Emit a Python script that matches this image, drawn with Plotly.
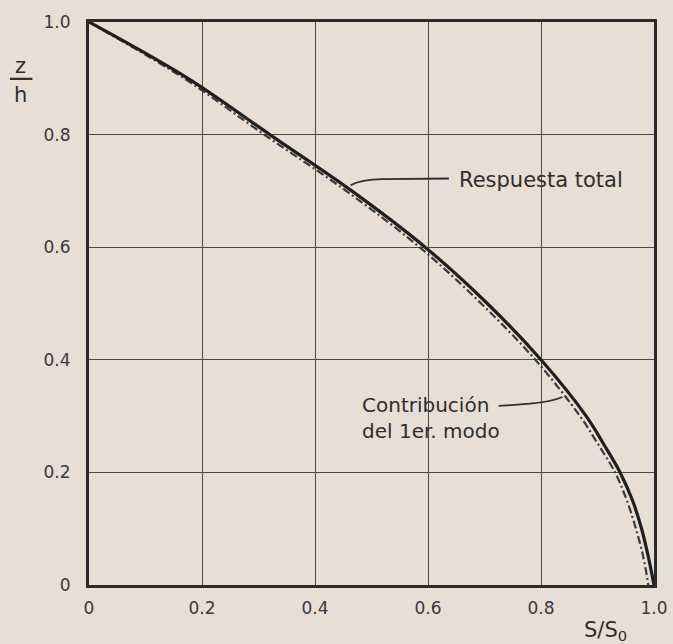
import plotly.graph_objects as go

# Relative height z/h
z_vals = [1.0, 0.9, 0.8, 0.7, 0.6, 0.5, 0.4, 0.3, 0.25, 0.2, 0.15, 0.1, 0.05, 0.0]
# Respuesta total  (S/S0)
s_total = [0.0, 0.175, 0.32, 0.465, 0.595, 0.705, 0.80, 0.88, 0.911, 0.94, 0.962, 0.978, 0.99, 1.0]
# Contribución del 1er. modo  (S/S0)
s_mode1 = [0.0, 0.168, 0.31, 0.455, 0.585, 0.694, 0.79, 0.869, 0.901, 0.931, 0.952, 0.968, 0.981, 0.99]

tick_vals = [0, 0.2, 0.4, 0.6, 0.8, 1.0]
tick_text = ["0", "0.2", "0.4", "0.6", "0.8", "1.0"]

BG = "#e7dfd5"
INK = "#2b2a2c"
TXT = "#2e2d2f"
FONT = "DejaVu Sans"

fig = go.Figure()
fig.add_trace(go.Scatter(
    x=s_mode1, y=z_vals, mode="lines", line_shape="spline",
    line=dict(color="#3a3a3c", width=2.2, dash="8px,3px,2px,3px"),
    name="Contribución del 1er. modo", cliponaxis=False))
fig.add_trace(go.Scatter(
    x=s_total, y=z_vals, mode="lines", line_shape="spline",
    line=dict(color="#1f1e20", width=3.2),
    name="Respuesta total", cliponaxis=False))

axis_common = dict(range=[0, 1], tickvals=tick_vals, ticktext=tick_text,
                   showgrid=True, gridcolor="#4a4a4c", gridwidth=1.2,
                   showline=True, linecolor=INK, linewidth=3, mirror=True,
                   zeroline=False, ticks="", automargin=False,
                   tickfont=dict(family=FONT, size=17, color="#38373a"))

fig.update_xaxes(**axis_common, ticklabelstandoff=6)
fig.update_yaxes(**axis_common, ticklabelstandoff=12)

# Labels with leader lines
fig.add_annotation(x=0.651, y=0.72, text="Respuesta total", showarrow=False,
                   xanchor="left", yanchor="middle",
                   font=dict(family=FONT, size=21, color=TXT))
fig.add_shape(type="path", xref="x", yref="y",
              path="M 0.637 0.722 L 0.52 0.721 Q 0.48 0.72 0.463 0.71",
              line=dict(color=TXT, width=1.8))
fig.add_annotation(x=0.48, y=0.297, text="Contribución<br>del 1er. modo", showarrow=False,
                   xanchor="left", yanchor="middle", align="left",
                   font=dict(family=FONT, size=20, color=TXT))
fig.add_shape(type="path", xref="x", yref="y",
              path="M 0.725 0.318 L 0.78 0.322 Q 0.82 0.326 0.838 0.334",
              line=dict(color=TXT, width=1.8))

# Axis titles
fig.add_annotation(xref="paper", yref="paper", x=-0.122, y=0.922, text="z",
                   showarrow=False, xanchor="center", yanchor="middle",
                   font=dict(family=FONT, size=21, color=TXT))
fig.add_annotation(xref="paper", yref="paper", x=-0.122, y=0.871, text="h",
                   showarrow=False, xanchor="center", yanchor="middle",
                   font=dict(family=FONT, size=21, color=TXT))
fig.add_shape(type="line", xref="paper", yref="paper", x0=-0.140, x1=-0.100,
              y0=0.899, y1=0.899, line=dict(color=TXT, width=2.2))
fig.add_annotation(xref="paper", yref="paper", x=0.955, y=-0.082, text="S/S<sub>0</sub>",
                   showarrow=False, xanchor="right", yanchor="middle",
                   font=dict(family=FONT, size=21, color=TXT))

fig.update_layout(width=673, height=644,
                  margin=dict(l=89, r=19, t=22, b=59),
                  paper_bgcolor=BG, plot_bgcolor=BG, showlegend=False)

fig.write_html("out.html")
